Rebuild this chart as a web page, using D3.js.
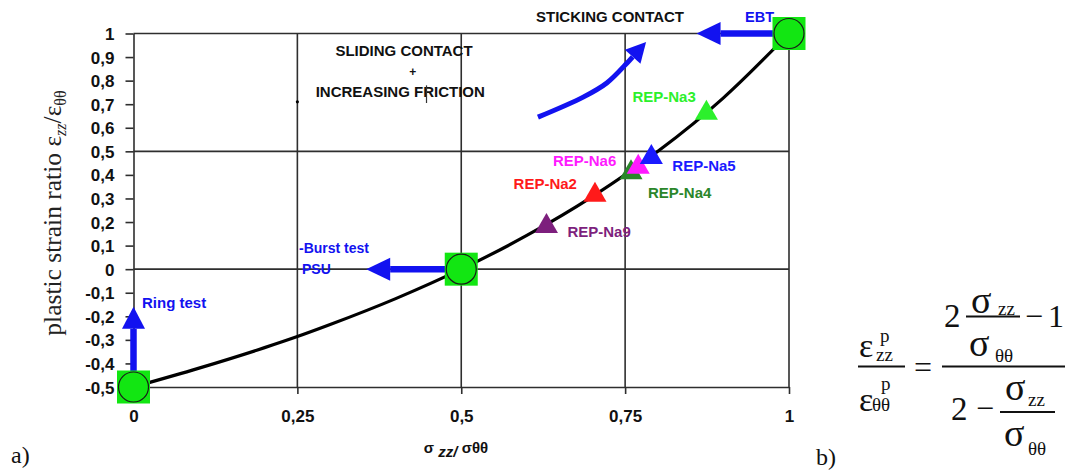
<!DOCTYPE html>
<html>
<head>
<meta charset="utf-8">
<script src="https://cdn.jsdelivr.net/npm/d3@7"></script>
<style>
  body { margin: 0; background: #fff; }
  svg { display: block; }
  text { font-family: "Liberation Sans", Arial, sans-serif; }
  .serif { font-family: "Liberation Serif", "Times New Roman", serif; }
</style>
</head>
<body>
<svg width="1066" height="470"></svg>
<script>
// ---- data ----
const yTicks = [-0.5, -0.4, -0.3, -0.2, -0.1, 0, 0.1, 0.2, 0.3, 0.4, 0.5, 0.6, 0.7, 0.8, 0.9, 1];
const yTickLabels = ["-0,5", "-0,4", "-0,3", "-0,2", "-0,1", "0", "0,1", "0,2", "0,3", "0,4", "0,5", "0,6", "0,7", "0,8", "0,9", "1"];
const xTicks = [0, 0.25, 0.5, 0.75, 1];
const xTickLabels = ["0", "0,25", "0,5", "0,75", "1"];
const gridY = [0, 0.5, 1];
const gridX = [0.25, 0.5, 0.75, 1];

// theoretical curve (sigma_zz/sigma_thth -> strain ratio)
const curveX = [0, 0.1, 0.2, 0.25, 0.3, 0.4, 0.5, 0.6, 0.7, 0.8, 0.9, 1];
const curveY = [-0.5, -0.42, -0.333, -0.286, -0.235, -0.125, 0, 0.143, 0.308, 0.5, 0.727, 1];

// reference tests (green markers)
const refX = [0, 0.5, 1];
const refY = [-0.5, 0, 1];

// REP-Na tests
const repNames = ["REP-Na9", "REP-Na2", "REP-Na4", "REP-Na6", "REP-Na5", "REP-Na3"];
const repX = [0.63, 0.704, 0.759, 0.77, 0.79, 0.874];
const repY = [0.182, 0.314, 0.41, 0.433, 0.475, 0.662];
const repColors = ["#7d1f7d", "#ff1a1a", "#2a862a", "#ff1aff", "#1a1aff", "#2cf02c"];
const repLabelDx = [21, -18, 17, -22, 21, -74];
const repLabelDy = [6, -11, 20, -6, 9, -16];
const repAnchor = ["start", "end", "start", "end", "start", "start"];

// arrows (data coordinates, tail -> tip)
const ringArrow = [[0, -0.5], [0, -0.16]];
const burstArrow = [[0.5, 0], [0.355, 0]];
const ebtArrow = [[1, 1], [0.859, 1]];
const frictionArrow = [[0.617, 0.645], [0.686, 0.73], [0.722, 0.79], [0.753, 0.875], [0.782, 0.964]];

const svg = d3.select("svg");
const blue = "#1212f0";
const gridColor = "#2e2e2e";

const margin = { top: 33.5, left: 133.5, right: 277, bottom: 83 };
const width = +svg.attr("width");
const height = +svg.attr("height");
const innerWidth = width - margin.left - margin.right;
const innerHeight = height - margin.top - margin.bottom;

const x = d3.scaleLinear().domain([0, 1]).range([margin.left, margin.left + innerWidth]);
const y = d3.scaleLinear().domain([-0.5, 1]).range([margin.top + innerHeight, margin.top]);

// gridlines
svg.append("g").selectAll("line").data(gridY).join("line")
  .attr("x1", x(0)).attr("x2", x(1))
  .attr("y1", d => y(d)).attr("y2", d => y(d))
  .attr("stroke", gridColor).attr("stroke-width", 1.6);
svg.append("g").selectAll("line").data(gridX).join("line")
  .attr("x1", d => x(d)).attr("x2", d => x(d))
  .attr("y1", y(1)).attr("y2", y(-0.5))
  .attr("stroke", gridColor).attr("stroke-width", 1.6);

// axes
const yAxis = d3.axisLeft(y).tickValues(yTicks)
  .tickFormat((d, i) => yTickLabels[i]).tickSize(8).tickSizeOuter(0).tickPadding(11);
const yAxisG = svg.append("g").attr("transform", `translate(${x(0)},0)`).call(yAxis);
yAxisG.selectAll("line, path").attr("stroke", gridColor).attr("stroke-width", 1.6);
yAxisG.selectAll("text").attr("dy", null).attr("y", 6)
  .attr("font-size", 17).attr("font-weight", "bold").attr("fill", "#111");

const xAxis = d3.axisBottom(x).tickValues(xTicks)
  .tickFormat((d, i) => xTickLabels[i]).tickSize(7).tickSizeOuter(0).tickPadding(15);
const xAxisG = svg.append("g").attr("transform", `translate(0,${y(-0.5)})`).call(xAxis);
xAxisG.selectAll("line, path").attr("stroke", gridColor).attr("stroke-width", 1.6);
xAxisG.selectAll("text").attr("dy", null).attr("y", 35)
  .attr("font-size", 17).attr("font-weight", "bold").attr("fill", "#111");

// axis titles
svg.append("text")
  .attr("x", 456).attr("y", 453)
  .attr("text-anchor", "middle")
  .attr("font-size", 15).attr("font-weight", "bold").attr("fill", "#111")
  .html('σ <tspan font-style="italic" baseline-shift="-4">zz/</tspan> σθθ');

svg.append("text").attr("class", "serif")
  .attr("transform", "translate(61,213) rotate(-90)")
  .attr("text-anchor", "middle")
  .attr("font-size", 25.5).attr("fill", "#222")
  .html('plastic strain ratio ε<tspan font-size="16" font-style="italic" baseline-shift="-5">zz</tspan>/ε<tspan font-size="16" baseline-shift="-5">θθ</tspan>');

// theoretical curve
const curvePts = curveX.map((d, i) => [x(d), y(curveY[i])]);
svg.append("path")
  .attr("d", d3.line().curve(d3.curveMonotoneX)(curvePts))
  .attr("fill", "none").attr("stroke", "#000").attr("stroke-width", 3.2);

// arrows
const drawArrow = (pts, hl, hw, sw) => {
  const p = pts.map(d => [x(d[0]), y(d[1])]);
  const tip = p[p.length - 1];
  const prev = p[p.length - 2];
  const len = Math.hypot(tip[0] - prev[0], tip[1] - prev[1]);
  const ux = (tip[0] - prev[0]) / len;
  const uy = (tip[1] - prev[1]) / len;
  const base = [tip[0] - ux * hl, tip[1] - uy * hl];
  const shaft = p.slice(0, -1).concat([base]);
  svg.append("path")
    .attr("d", d3.line().curve(d3.curveCatmullRom)(shaft))
    .attr("fill", "none").attr("stroke", blue).attr("stroke-width", sw);
  svg.append("path")
    .attr("d", `M${tip[0]},${tip[1]}L${base[0] - uy * hw},${base[1] + ux * hw}L${base[0] + uy * hw},${base[1] - ux * hw}Z`)
    .attr("fill", blue);
};
drawArrow(ringArrow, 22, 11.5, 6.5);
drawArrow(burstArrow, 24, 11.5, 6.5);
drawArrow(ebtArrow, 24, 11.5, 6.5);
drawArrow(frictionArrow, 20, 10.5, 5);

// reference markers
const refG = svg.append("g").selectAll("g").data(refX).join("g")
  .attr("transform", (d, i) => `translate(${x(d)},${y(refY[i])})`);
refG.append("rect")
  .attr("x", -16.5).attr("y", -16.5).attr("width", 33).attr("height", 33)
  .attr("fill", "#12e612");
refG.append("circle")
  .attr("r", 15).attr("fill", "#12e612").attr("stroke", "#1a1a1a").attr("stroke-width", 1.2);

// REP-Na triangles and labels
svg.append("g").selectAll("path").data(repX).join("path")
  .attr("transform", (d, i) => `translate(${x(d)},${y(repY[i])})`)
  .attr("d", d3.symbol(d3.symbolTriangle, 230))
  .attr("fill", (d, i) => repColors[i]);
svg.append("g").selectAll("text").data(repNames).join("text")
  .attr("x", (d, i) => x(repX[i]) + repLabelDx[i])
  .attr("y", (d, i) => y(repY[i]) + repLabelDy[i] + 5)
  .attr("text-anchor", (d, i) => repAnchor[i])
  .attr("font-size", 15).attr("font-weight", "bold")
  .attr("fill", (d, i) => repColors[i])
  .text(d => d);

// annotations
const note = (t, xv, yv, anchor, color, size) =>
  svg.append("text")
    .attr("x", x(xv)).attr("y", y(yv) + size * 0.35)
    .attr("text-anchor", anchor)
    .attr("font-size", size).attr("font-weight", "bold").attr("fill", color)
    .text(t);
note("STICKING CONTACT", 0.614, 1.069, "start", "#111", 15);
note("EBT", 0.933, 1.07, "start", blue, 14.5);
note("SLIDING CONTACT", 0.4127, 0.927, "middle", "#111", 15);
note("+", 0.426, 0.838, "middle", "#111", 12);
note("INCREASING FRICTION", 0.407, 0.753, "middle", "#111", 15);
note("Ring test", 0.013, -0.144, "start", blue, 15);
note("-Burst test", 0.2525, 0.088, "start", blue, 14);
note("PSU", 0.257, 0, "start", blue, 14);

// small stray marks
svg.append("circle").attr("cx", x(0.25)).attr("cy", y(0.71)).attr("r", 1.6).attr("fill", "#000");
svg.append("line")
  .attr("x1", x(0.447)).attr("x2", x(0.447))
  .attr("y1", y(0.78)).attr("y2", y(0.705))
  .attr("stroke", "#333").attr("stroke-width", 1.2);

// panel letters
svg.append("text").attr("class", "serif").attr("x", 11).attr("y", 463)
  .attr("font-size", 24).attr("fill", "#111").text("a)");
svg.append("text").attr("class", "serif").attr("x", 816).attr("y", 465)
  .attr("font-size", 24).attr("fill", "#111").text("b)");

// formula b)
const f = svg.append("g").attr("class", "formula");
const ft = (xp, yp, size, html, anchor) =>
  f.append("text").attr("class", "serif")
    .attr("x", xp).attr("y", yp)
    .attr("font-size", size).attr("fill", "#111")
    .attr("text-anchor", anchor || "start")
    .html(html);
const fl = (x1, x2, yp) =>
  f.append("line").attr("x1", x1).attr("x2", x2).attr("y1", yp).attr("y2", yp)
    .attr("stroke", "#111").attr("stroke-width", 1.8);

// left side
ft(859, 357, 34, "ε");
ft(880, 342, 19, "p");
ft(876, 361, 19, "zz");
fl(858, 905, 366.5);
ft(859, 411, 34, "ε");
ft(881, 390, 19, "p");
ft(872, 411, 19, "θθ");
ft(923, 378, 32, "=", "middle");
fl(942, 1065, 366.5);
// numerator
ft(944, 327, 33, "2");
ft(971, 313, 38, "σ");
ft(998, 315, 19, "zz");
fl(966, 1020, 316.5);
ft(969, 356, 38, "σ");
ft(995, 362, 19, "θθ");
ft(1025, 327, 32, "−");
ft(1048, 327, 32, "1");
// denominator
ft(951, 420, 33, "2");
ft(976, 419, 32, "−");
ft(1005, 400, 38, "σ");
ft(1028, 406, 19, "zz");
fl(1000, 1055, 412);
ft(1004, 446, 38, "σ");
ft(1028, 455, 19, "θθ");
</script>
</body>
</html>
